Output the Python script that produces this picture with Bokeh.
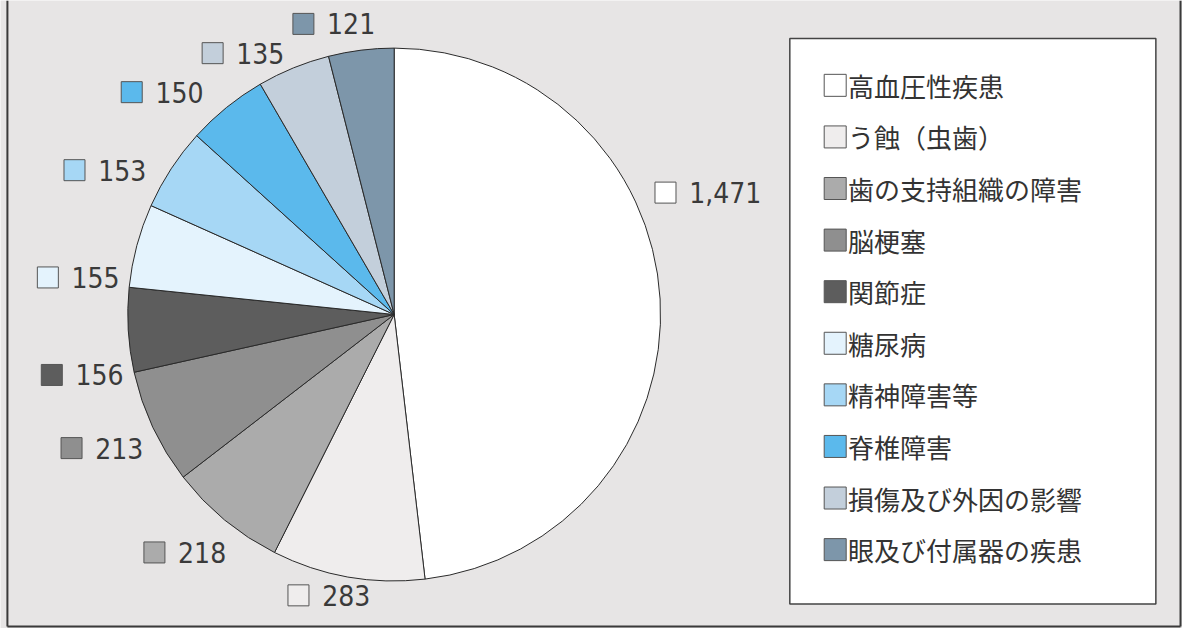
import numpy as np
from bokeh.plotting import figure
from bokeh.models import Range1d, ColumnDataSource
from bokeh.core.properties import value
from bokeh.embed import file_html
from bokeh.resources import INLINE

# ---- data ----
categories = ["高血圧性疾患", "う蝕（虫歯）", "歯の支持組織の障害", "脳梗塞", "関節症",
              "糖尿病", "精神障害等", "脊椎障害", "損傷及び外因の影響", "眼及び付属器の疾患"]
counts = [1471, 283, 218, 213, 156, 155, 153, 150, 135, 121]
colors = ["#ffffff", "#efeded", "#ababab", "#8f8f8f", "#5d5d5d",
          "#e4f3fd", "#a6d7f5", "#5bb9ec", "#c3cfdb", "#7d96aa"]

# ---- layout (reference pixel coordinates; y grows downward) ----
CX, CY, R = 399, 322, 270
label_box_x = [674, 302, 156, 72, 52, 48, 75, 133, 215, 307]
label_box_y = [197, 610, 566, 459, 384, 284, 174, 94, 54, 24]
LEG_LEFT, LEG_RIGHT, LEG_TOP, LEG_BOTTOM = 800, 1171, 39, 619
LEG_SQ_X, LEG_TXT_X, LEG_ROW0, LEG_STEP = 846, 859, 87, 52.9
BG = "#e7e5e5"
REF_W, REF_H = 1198, 644

vals = np.array(counts, dtype=float)
frac = vals / vals.sum()
cum = np.concatenate([[0], np.cumsum(frac)])
a0 = cum[:-1] * 2 * np.pi          # clockwise from top
a1 = cum[1:] * 2 * np.pi
start = np.pi / 2 - a1
end = np.pi / 2 - a0

W, H = 1182, 628
p = figure(width=W, height=H, output_backend="svg", toolbar_location=None,
           x_range=Range1d(0, REF_W), y_range=Range1d(-REF_H, 0),
           min_border=0, background_fill_color=BG, border_fill_color=BG,
           outline_line_color=None)
p.axis.visible = False
p.grid.visible = False

# frame lines (left, bottom, right)
p.segment(x0=[7, 7, 1196], y0=[0, -642, 0], x1=[7, 1196, 1196], y1=[-642, -642, -642],
          line_color="#3a3a3a", line_width=2)

pie = ColumnDataSource(dict(start=start, end=end, color=colors, cat=categories))
p.wedge(x=CX, y=-CY, radius=R, start_angle="start", end_angle="end",
        fill_color="color", line_color="#2a2a2a", line_width=1, source=pie)

# value labels
num_font = value("'DejaVu Sans Condensed', 'DejaVu Sans', sans-serif")
lab = ColumnDataSource(dict(
    x=label_box_x, y=[-v for v in label_box_y],
    tx=[v + 24 for v in label_box_x],
    txt=[f"{c:,}" for c in counts], color=colors))
p.rect(x="x", y="y", width=21, height=21, width_units="screen", height_units="screen",
       fill_color="color", line_color="#555555", line_width=1, source=lab)
p.text(x="tx", y="y", text="txt", text_font=num_font, text_font_size="28px",
       text_color="#3a3a3a", text_baseline="middle", text_align="left", source=lab)

# legend box
p.quad(left=[LEG_LEFT], right=[LEG_RIGHT], top=[-LEG_TOP], bottom=[-LEG_BOTTOM],
       fill_color="#ffffff", line_color="#444444", line_width=1.5)
rows = LEG_ROW0 + LEG_STEP * np.arange(len(categories))
leg = ColumnDataSource(dict(y=-rows, cat=categories, color=colors,
                            sx=[LEG_SQ_X] * len(categories), tx=[LEG_TXT_X] * len(categories)))
p.rect(x="sx", y="y", width=22, height=22, width_units="screen", height_units="screen",
       fill_color="color", line_color="#555555", line_width=1, source=leg)
p.text(x="tx", y="y", text="cat", text_font=value("Noto Sans CJK JP"), text_font_size="26px",
       text_color="#333333", text_baseline="middle", text_align="left", source=leg)

open("out.html", "w").write(file_html(p, INLINE))
